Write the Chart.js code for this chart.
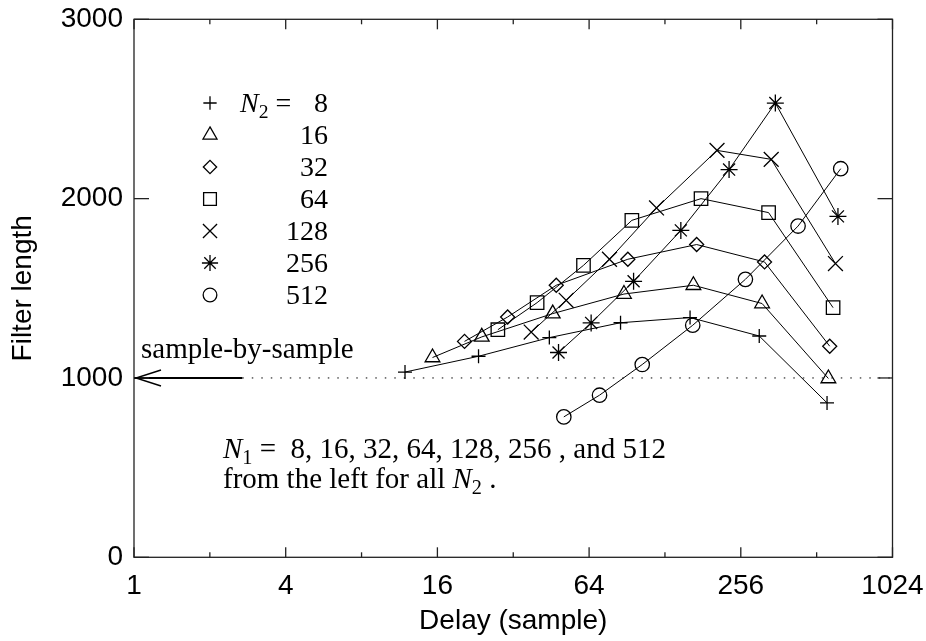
<!DOCTYPE html>
<html>
<head>
<meta charset="utf-8">
<script src="https://cdn.jsdelivr.net/npm/chart.js@4/dist/chart.umd.min.js"></script>
<style>
body { margin: 0; background: #fff; }
#wrap { width: 926px; height: 641px; }
</style>
</head>
<body>
<div id="wrap"><canvas id="canvas"></canvas></div>
<script>
// delay (sample) and filter length, one pair of arrays per N2
const delay8 = [11.9, 23.3, 44.5, 85.3, 161, 303, 563];
const len8 = [1033, 1121, 1225, 1308, 1337, 1234, 861];
const delay16 = [15.3, 24.0, 45.9, 88.0, 166, 311, 570];
const len16 = [1114, 1229, 1359, 1468, 1517, 1415, 997];
const delay32 = [20.5, 30.4, 47.4, 91.2, 171, 318, 577];
const len32 = [1204, 1340, 1517, 1662, 1744, 1647, 1177];
const delay64 = [27.8, 39.8, 60.8, 94.6, 178, 330, 595];
const len64 = [1269, 1420, 1628, 1879, 2000, 1922, 1392];
const delay128 = [37.7, 51.9, 77.1, 118.5, 206, 338, 608];
const len128 = [1256, 1433, 1662, 1948, 2269, 2219, 1638];
const delay256 = [48.4, 65.2, 96.1, 148, 230, 351, 622];
const len256 = [1142, 1307, 1539, 1823, 2162, 2533, 1901];
const delay512 = [50.8, 70.4, 104, 165, 267, 432, 638];
const len512 = [783, 904, 1075, 1294, 1550, 1847, 2167];

const n2Values = [8, 16, 32, 64, 128, 256, 512];
const xMajorTicks = [1, 4, 16, 64, 256, 1024];
const xMinorTicks = [2, 8, 32, 128, 512];
const yTicks = [0, 1000, 2000, 3000];

// sample-by-sample reference level and where the arrow ends
const sbsLength = 1000;
const arrowEnd = 2.69;

const delays = [delay8, delay16, delay32, delay64, delay128, delay256, delay512];
const lengths = [len8, len16, len32, len64, len128, len256, len512];
const styles = ['cross', 'triangle', 'rectRot', 'rect', 'crossRot', 'star', 'circle'];
const radii = [7, 8.5, 7, 9.5, 10.5, 8.5, 7.2];

const serif = '"Liberation Serif", "Times New Roman", serif';
const sans = '"Liberation Sans", Arial, sans-serif';

const datasets = delays.map(function (d, k) {
    return {
        label: 'N2 = ' + n2Values[k],
        data: d.map(function (x, i) { return { x: x, y: lengths[k][i] }; }),
        showLine: true,
        borderColor: '#000',
        borderWidth: 1,
        pointStyle: styles[k],
        pointRadius: radii[k],
        pointBorderWidth: 1.3,
        pointBackgroundColor: 'rgba(0,0,0,0)',
        pointBorderColor: '#000',
        tension: 0
    };
});
datasets.push({
    label: 'level',
    data: [{ x: arrowEnd, y: sbsLength }, { x: 1024, y: sbsLength }],
    showLine: true, borderColor: '#000', borderWidth: 1, borderDash: [1.5, 8],
    pointRadius: 0
});
datasets.push({
    label: 'arrow',
    data: [{ x: 1, y: sbsLength }, { x: arrowEnd, y: sbsLength }],
    showLine: true, borderColor: '#000', borderWidth: 2,
    pointRadius: 0
});

// draws pieces of text one after another: [text, italic, sub]
function runText(ctx, parts, x, y, size) {
    parts.forEach(function (p) {
        const fs = p[2] ? size * 0.7 : size;
        ctx.font = (p[1] ? 'italic ' : '') + fs + 'px ' + serif;
        ctx.fillText(p[0], x, y + (p[2] ? 6 : 0));
        x += ctx.measureText(p[0]).width;
    });
    return x;
}

const extras = {
    id: 'extras',
    afterDatasetsDraw(chart) {
        const ctx = chart.ctx;
        const a = chart.chartArea;
        const xs = chart.scales.x, ys = chart.scales.y;
        function line(x1, y1, x2, y2) {
            ctx.beginPath(); ctx.moveTo(x1, y1); ctx.lineTo(x2, y2); ctx.stroke();
        }
        ctx.save();
        ctx.strokeStyle = '#222';
        ctx.lineWidth = 1.3;
        ctx.strokeRect(a.left, a.top, a.right - a.left, a.bottom - a.top);
        xMajorTicks.forEach(function (v) {
            const px = xs.getPixelForValue(v);
            line(px, a.bottom, px, a.bottom - 10);
            line(px, a.top, px, a.top + 10);
        });
        xMinorTicks.forEach(function (v) {
            const px = xs.getPixelForValue(v);
            line(px, a.bottom, px, a.bottom - 5);
            line(px, a.top, px, a.top + 5);
        });
        yTicks.forEach(function (v) {
            const py = ys.getPixelForValue(v);
            line(a.left, py, a.left + 15, py);
            line(a.right, py, a.right - 15, py);
        });

        // arrow head at the y axis
        const tx = xs.getPixelForValue(1), ty = ys.getPixelForValue(sbsLength);
        ctx.strokeStyle = '#000';
        ctx.lineWidth = 1.4;
        ctx.beginPath();
        ctx.moveTo(tx + 27, ty - 8); ctx.lineTo(tx + 2, ty); ctx.lineTo(tx + 27, ty + 8);
        ctx.stroke();

        ctx.fillStyle = '#000';
        ctx.textBaseline = 'alphabetic';
        ctx.textAlign = 'left';
        ctx.font = '29px ' + serif;
        ctx.fillText('sample-by-sample', tx + 7, ty - 20);

        // legend
        const lx = 210, ly0 = 103, dy = 32;
        n2Values.forEach(function (n, k) {
            const y = ly0 + k * dy;
            ctx.lineWidth = 1.3;
            ctx.strokeStyle = '#000';
            ctx.fillStyle = 'rgba(0,0,0,0)';
            Chart.helpers.drawPoint(ctx, { pointStyle: styles[k], radius: radii[k] * 0.95, rotation: 0, borderWidth: 1.3 }, lx, y);
            ctx.fillStyle = '#000';
            if (k === 0) {
                runText(ctx, [['N', true], ['2', false, true], [' = ', false]], 240, y + 9, 28);
            }
            ctx.textAlign = 'right';
            ctx.font = '28px ' + serif;
            ctx.fillText(String(n), 328, y + 9);
            ctx.textAlign = 'left';
        });

        // note under the curves
        runText(ctx, [['N', true], ['1', false, true], [' =  8, 16, 32, 64, 128, 256 , and 512', false]], 223, 458, 29);
        runText(ctx, [['from the left for all ', false], ['N', true], ['2', false, true], [' .', false]], 223, 488, 29);
        ctx.restore();
    }
};

new Chart(document.getElementById('canvas'), {
    type: 'scatter',
    data: { datasets: datasets },
    plugins: [extras],
    options: {
        responsive: true,
        maintainAspectRatio: false,
        animation: false,
        layout: { padding: { left: 0, right: 33.5, top: 19.3, bottom: 0 } },
        plugins: {
            legend: { display: false },
            tooltip: { enabled: false }
        },
        scales: {
            x: {
                type: 'logarithmic',
                min: 1,
                max: 1024,
                afterBuildTicks: function (scale) {
                    scale.ticks = xMajorTicks.map(function (v) { return { value: v }; });
                },
                afterFit: function (scale) {
                    scale.height = 83.7;
                    scale.paddingLeft = 0;
                    scale.paddingRight = 0;
                },
                grid: { display: false, drawTicks: false },
                border: { display: false },
                ticks: {
                    autoSkip: false,
                    maxRotation: 0,
                    padding: 12,
                    color: '#000',
                    font: { family: sans, size: 28 },
                    callback: function (v) { return String(v); }
                },
                title: {
                    display: true,
                    text: 'Delay (sample)',
                    color: '#000',
                    font: { family: sans, size: 28 },
                    padding: { top: 0, bottom: 3 }
                }
            },
            y: {
                min: 0,
                max: 3000,
                afterBuildTicks: function (scale) {
                    scale.ticks = yTicks.map(function (v) { return { value: v }; });
                },
                afterFit: function (scale) {
                    scale.width = 134;
                    scale.paddingTop = 0;
                    scale.paddingBottom = 0;
                },
                grid: { display: false, drawTicks: false },
                border: { display: false },
                ticks: {
                    padding: 11,
                    color: '#000',
                    font: { family: sans, size: 28 },
                    callback: function (v) { return String(v); }
                },
                title: {
                    display: true,
                    text: 'Filter length',
                    color: '#000',
                    font: { family: sans, size: 28 },
                    padding: { top: 6, bottom: 0 }
                }
            }
        }
    }
});
</script>
</body>
</html>
